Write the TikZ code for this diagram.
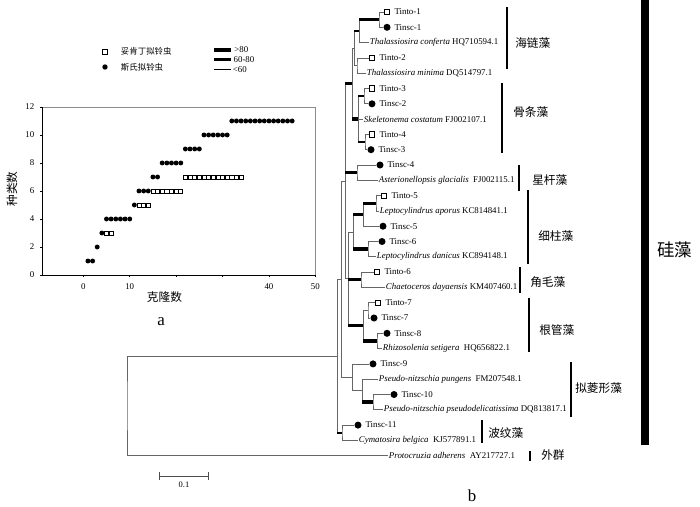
\documentclass[tikz,border=0pt]{standalone}
\usepackage{fontspec}
\setmainfont{Liberation Serif}
\newfontfamily\cjk{Noto Sans CJK SC}
\usetikzlibrary{positioning}

\newcommand{\leaffont}{\fontsize{6.3}{7}\selectfont}
\newcommand{\cladefont}{\cjk\fontsize{8.3}{10}\selectfont}

\begin{document}
\begin{tikzpicture}[
		x=0.025cm, y=-0.025cm,
		br/.style={draw=black!60, line width=0.5pt},
		bs/.style={draw=black, line width=2.4pt},
		bm/.style={draw=black, line width=1.5pt},
		tinto/.style={draw, rectangle, minimum size=3.8pt, inner sep=0pt, line width=0.5pt},
		tinsc/.style={fill, circle, minimum size=5pt, inner sep=0pt},
		leaf/.style={anchor=west, inner sep=0.5pt, font=\leaffont},
		clade/.style={anchor=west, inner sep=0pt, font=\cladefont},
		cbar/.style={line width=1.8pt},
		tick/.style={font=\fontsize{6.3}{7}\selectfont, inner sep=1pt}
		]
		\useasboundingbox (0,0) rectangle (700,507);
		
		% legend
		\node[tinto, minimum size=3.6pt] (lgo) at (105,51.7) {};
		\node[anchor=west, font=\cjk\fontsize{6}{7}\selectfont] (lgotxt) at (116,51.7) {妥肯丁拟铃虫};
		\node[tinsc, minimum size=3.8pt] (lgs) at (105,67) {};
		\node[anchor=west, font=\cjk\fontsize{6}{7}\selectfont] (lgstxt) at (116,67) {斯氏拟铃虫};
		\draw[line width=2.8pt] (214,50) -- (231,50) node[right, tick] (k1) {>80};
		\draw[line width=1.8pt] (214,59.3) -- (231,59.3) node[right, tick] (k2) {60-80};
		\draw[line width=0.6pt] (214,69.3) -- (231,69.3) node[right, tick] (k3) {<60};
		
		% accumulation plot
		\begin{scope}[shift={(83.3,275)}, x=0.116cm, y=0.35cm]
			\draw[black!45, line width=0.4pt] (-8.9,12) -- (50,12) -- (50,0);
			\draw[line width=0.5pt] (-8.9,12) -- (-8.9,0) -- (50,0);
			\foreach \v in {0,2,...,12} {
				\draw (-8.9,\v) -- ++(-0.5,0);
				\node[tick, anchor=east] (yl\v) at (-10.2,\v) {\v};
			}
			\foreach \v in {0,10,20,30,40,50} \draw (\v,0) -- ++(0,-0.15);
			\foreach \v in {0,10,40,50} \node[tick] (xl\v) at (\v,-0.8) {\v};
			\foreach \y/\a/\b in {1/1/2, 2/3/3, 3/4/4, 4/5/10, 5/11/11, 6/12/14, 7/15/16, 8/17/21, 9/22/25, 10/26/31, 11/32/45}
				\foreach \x in {\a,...,\b} \fill (\x,\y) circle[radius=1.75pt];
			\foreach \y/\a/\b in {3/5/6, 5/12/14, 6/15/21, 7/22/34}
				\foreach \x in {\a,...,\b} \draw[fill=white, line width=0.5pt] (\x,\y) ++(-1.45pt,-1.45pt) rectangle ++(2.9pt,2.9pt);
		\end{scope}
		\node[rotate=90, font=\cladefont] (ylab) at (12,189) {种类数};
		\node[font=\cladefont] (xlab) at (164.5,297) {克隆数};
		\node[font=\fontsize{12}{14}\selectfont] (pa) at (161,322) {a};
		
		% leaves
		\node[tinto] (m1) at (387,12.0) {};
		\node[leaf, right=2.5pt of m1] (t1) {Tinto-1};
		\node[tinsc] (m2) at (387,27.3) {};
		\node[leaf, right=2pt of m2] (t2) {Tinsc-1};
		\node[leaf] (t3) at (369,42.6) {\textit{Thalassiosira conferta} HQ710594.1};
		\node[tinto] (m4) at (372,57.9) {};
		\node[leaf, right=2.5pt of m4] (t4) {Tinto-2};
		\node[leaf] (t5) at (366,73.2) {\textit{Thalassiosira minima} DQ514797.1};
		\node[tinto] (m6) at (372,88.5) {};
		\node[leaf, right=2.5pt of m6] (t6) {Tinto-3};
		\node[tinsc] (m7) at (372,103.8) {};
		\node[leaf, right=2pt of m7] (t7) {Tinsc-2};
		\node[leaf] (t8) at (363,119.1) {\textit{Skeletonema costatum} FJ002107.1};
		\node[tinto] (m9) at (372,134.4) {};
		\node[leaf, right=2.5pt of m9] (t9) {Tinto-4};
		\node[tinsc] (m10) at (371,149.7) {};
		\node[leaf, right=2pt of m10] (t10) {Tinsc-3};
		\node[tinsc] (m11) at (380,165.0) {};
		\node[leaf, right=2pt of m11] (t11) {Tinsc-4};
		\node[leaf] (t12) at (378,180.3) {\textit{Asterionellopsis glacialis}\enspace FJ002115.1};
		\node[tinto] (m13) at (384,195.6) {};
		\node[leaf, right=2.5pt of m13] (t13) {Tinto-5};
		\node[leaf] (t14) at (379,210.9) {\textit{Leptocylindrus aporus} KC814841.1};
		\node[tinsc] (m15) at (383,226.2) {};
		\node[leaf, right=2pt of m15] (t15) {Tinsc-5};
		\node[tinsc] (m16) at (382,241.5) {};
		\node[leaf, right=2pt of m16] (t16) {Tinsc-6};
		\node[leaf] (t17) at (376,256.8) {\textit{Leptocylindrus danicus} KC894148.1};
		\node[tinto] (m18) at (377,272.1) {};
		\node[leaf, right=2.5pt of m18] (t18) {Tinto-6};
		\node[leaf] (t19) at (385,287.4) {\textit{Chaetoceros dayaensis} KM407460.1};
		\node[tinto] (m20) at (378,302.7) {};
		\node[leaf, right=2.5pt of m20] (t20) {Tinto-7};
		\node[tinsc] (m21) at (374,318.0) {};
		\node[leaf, right=2pt of m21] (t21) {Tinsc-7};
		\node[tinsc] (m22) at (387,333.3) {};
		\node[leaf, right=2pt of m22] (t22) {Tinsc-8};
		\node[leaf] (t23) at (382,348.6) {\textit{Rhizosolenia setigera}\enspace HQ656822.1};
		\node[tinsc] (m24) at (373,363.9) {};
		\node[leaf, right=2pt of m24] (t24) {Tinsc-9};
		\node[leaf] (t25) at (378,379.2) {\textit{Pseudo-nitzschia pungens}\enspace FM207548.1};
		\node[tinsc] (m26) at (394,394.5) {};
		\node[leaf, right=2pt of m26] (t26) {Tinsc-10};
		\node[leaf] (t27) at (383,409.8) {\textit{Pseudo-nitzschia pseudodelicatissima} DQ813817.1};
		\node[tinsc] (m28) at (358,425.1) {};
		\node[leaf, right=2pt of m28] (t28) {Tinsc-11};
		\node[leaf] (t29) at (358,440.4) {\textit{Cymatosira belgica}\enspace KJ577891.1};
		\node[leaf] (t30) at (388,455.7) {\textit{Protocruzia adherens}\enspace AY217727.1};
		
		% inner nodes
		\coordinate (thal1) at (379,19.65);
		\coordinate (thal2) at (359,31.1);
		\coordinate (thal3) at (357,65.55);
		\coordinate (thal) at (354,48.3);
		\coordinate (skel1) at (364,96.15);
		\coordinate (skel3) at (365,142.05);
		\coordinate (skel) at (358,119.1);
		\coordinate (thsk) at (352,83.7);
		\coordinate (aster) at (357,172.65);
		\coordinate (lep1) at (376,203.25);
		\coordinate (lep2) at (363,214.7);
		\coordinate (lep3) at (368,249.15);
		\coordinate (lep) at (353,231.9);
		\coordinate (chaet) at (361,279.75);
		\coordinate (rhi1) at (368,310.35);
		\coordinate (rhi2) at (377,340.95);
		\coordinate (rhi) at (363,325.65);
		\coordinate (lcr) at (348,278.8);
		\coordinate (upper) at (345,181.2);
		\coordinate (pse2) at (373,402.15);
		\coordinate (pse1) at (362,390.7);
		\coordinate (pse) at (352,377.3);
		\coordinate (core) at (341,279.25);
		\coordinate (cyma) at (342,432.75);
		\coordinate (diatom) at (337,356.0);
		\coordinate (root) at (127,405.85);
		
		% branches
		\draw[br] (m1) -| (thal1) |- (m2);
		\draw[br] (t3.west) -| (thal2 |- thal1);
		\draw[bs] (thal2 |- thal1) -- (thal1);
		\draw[br] (m4) -| (thal3) |- (t5.west);
		\draw[br] (thal3) -| (thal |- thal2);
		\draw[bm] (thal |- thal2) -- (thal2);
		\draw[br] (m6) -| (skel1) |- (m7);
		\draw[br] (m9) -| (skel3) |- (m10);
		\draw[br] (skel |- skel1) -- (skel |- skel3);
		\draw[bm] (skel |- skel1) -- (skel1);
		\draw[bm] (skel |- skel3) -- (skel3);
		\draw[br] (skel |- t8) -- (t8.west);
		\draw[br] (thal) -| (thsk |- skel);
		\draw[bs] (thsk |- skel) -- (skel);
		\draw[br] (m11) -| (aster) |- (t12.west);
		\draw[br] (m13) -| (lep1) |- (t14.west);
		\draw[br] (m15) -| (lep2 |- lep1);
		\draw[bs] (lep2 |- lep1) -- (lep1);
		\draw[br] (m16) -| (lep3) |- (t17.west);
		\draw[br] (lep |- lep2) -- (lep |- lep3);
		\draw[bs] (lep |- lep2) -- (lep2);
		\draw[bs] (lep |- lep3) -- (lep3);
		\draw[br] (m18) -| (chaet) |- (t19.west);
		\draw[br] (m20) -| (rhi1) |- (m21);
		\draw[br] (m22) -| (rhi2) |- (t23.west);
		\draw[br] (rhi1) -| (rhi |- rhi2);
		\draw[bs] (rhi |- rhi2) -- (rhi2);
		\draw[br] (lep) -| (lcr |- rhi);
		\draw[bs] (lcr |- chaet) -- (chaet);
		\draw[bs] (lcr |- rhi) -- (rhi);
		\draw[br] (thsk) -| (upper |- lcr) -- (lcr);
		\draw[bs] (upper |- thsk) -- (thsk);
		\draw[bs] (upper |- aster) -- (aster);
		\draw[br] (m26) -| (pse2) |- (t27.west);
		\draw[br] (t25.west) -| (pse1 |- pse2);
		\draw[bs] (pse1 |- pse2) -- (pse2);
		\draw[br] (m24) -| (pse |- pse1) -- (pse1);
		\draw[br] (upper) -| (core |- pse) -- (pse);
		\draw[br] (m28) -| (cyma) |- (t29.west);
		\draw[br] (core) -| (diatom |- cyma);
		\draw[bm] (diatom |- cyma) -- (cyma);
		\draw[br] (diatom) -| (root) |- (t30.west);
		
		% clade bars
		\draw[cbar] (507,7) -- (507,69);
		\node[clade] (hl) at (515,43) {海链藻};
		\draw[cbar] (502,83) -- (502,153);
		\node[clade] (gt) at (513,112) {骨条藻};
		\draw[cbar] (519,165) -- (519,191);
		\node[clade] (xg) at (532,180) {星杆藻};
		\draw[cbar] (528,190) -- (528,264);
		\node[clade] (xz) at (538,236) {细柱藻};
		\draw[cbar] (520,267) -- (520,293);
		\node[clade] (jm) at (530,282) {角毛藻};
		\draw[cbar] (529,298) -- (529,352);
		\node[clade] (gg) at (539,330) {根管藻};
		\draw[cbar] (571,362) -- (571,417);
		\node[clade] (nl) at (575,388) {拟菱形藻};
		\draw[cbar] (482,420) -- (482,443);
		\node[clade] (bw) at (488,433) {波纹藻};
		\draw[cbar] (530,451) -- (530,461);
		\node[clade] (wq) at (541,455) {外群};
		\draw[line width=5pt] (645,0) -- (645,445);
		\node[clade, font=\cjk\fontsize{12.4}{14}\selectfont] (gz) at (657,250) {硅藻};
		
		% scale bar
		\draw[|-|, black!70, line width=0.5pt] (159,476) -- (209,476);
		\node[font=\fontsize{6}{7}\selectfont] (sb) at (184,485) {0.1};
		\node[font=\fontsize{12}{14}\selectfont] (pb) at (472,496) {b};
		
	\end{tikzpicture}
\end{document}
